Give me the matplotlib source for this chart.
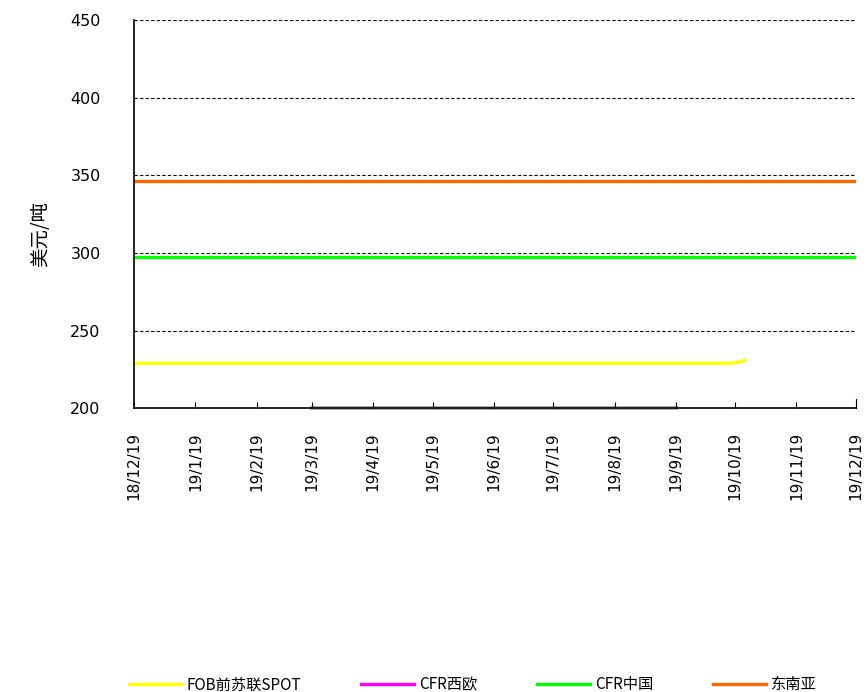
import matplotlib.pyplot as plt
import pandas as pd

plt.rcParams['font.family'] = ['Noto Sans CJK SC', 'DejaVu Sans']

# data
fob_dates = pd.to_datetime(['2018-12-19', '2019-10-17', '2019-10-21', '2019-10-24'])
fob_vals = [229, 229, 229.6, 231]
cfr_eu_dates = pd.to_datetime([])
cfr_eu_vals = []
cfr_cn_dates = pd.to_datetime(['2018-12-19', '2019-12-19'])
cfr_cn_vals = [297.5, 297.5]
sea_dates = pd.to_datetime(['2018-12-19', '2019-12-19'])
sea_vals = [346.5, 346.5]
gray_dates = pd.to_datetime(['2019-03-19', '2019-09-19'])
gray_vals = [200, 200]

tick_dates = pd.date_range('2018-12-19', '2019-12-19', freq='MS') + pd.Timedelta(days=18)
tick_dates = [pd.Timestamp('2018-12-19')] + list(tick_dates)
tick_labels = ['{:02d}/{}/{}'.format(d.year % 100, d.month, d.day) for d in tick_dates]

fig = plt.figure(figsize=(8.67, 6.92), dpi=100)
ax = fig.add_axes([0.1546, 0.410, 0.8324, 0.561])

ax.plot(fob_dates, fob_vals, color='#ffff00', lw=2.4, label='FOB前苏联SPOT', solid_capstyle='round')
ax.plot(cfr_eu_dates, cfr_eu_vals, color='#ff00ff', lw=2.4, label='CFR西欧')
ax.plot(cfr_cn_dates, cfr_cn_vals, color='#00ff00', lw=2.4, label='CFR中国')
ax.plot(sea_dates, sea_vals, color='#ff6600', lw=2.4, label='东南亚')
ax.plot(gray_dates, gray_vals, color='#b0b0b0', lw=3, clip_on=False, zorder=1)

ax.set_xlim(pd.Timestamp('2018-12-19'), pd.Timestamp('2019-12-19'))
ax.set_ylim(200, 450)
ax.set_yticks([200, 250, 300, 350, 400, 450])
ax.set_xticks(tick_dates)
ax.set_xticklabels(tick_labels, rotation=90, fontsize=11, family='DejaVu Sans')
ax.tick_params(axis='y', labelsize=11.5, length=0, pad=24)
ax.tick_params(axis='x', direction='in', length=4, pad=17)
for lab in ax.get_yticklabels():
    lab.set_family('DejaVu Sans')

for v in [250, 300, 350, 400, 450]:
    ax.axhline(v, color='black', lw=0.8, ls=(0, (3, 2)), zorder=0)

ax.spines['top'].set_visible(False)
ax.spines['left'].set_linewidth(1.2)
ax.spines['bottom'].set_linewidth(1.2)
ax.spines['right'].set_bounds(200, 206)

ax.set_ylabel('美元/吨', fontsize=14)
ax.yaxis.set_label_coords(-0.115, 0.45)

fig.legend(loc='lower center', bbox_to_anchor=(0.545, -0.022), ncol=4, frameon=False,
           fontsize=11, handlelength=3.5, columnspacing=3.9, handletextpad=0.3)

fig.savefig('out.png', dpi=100)
